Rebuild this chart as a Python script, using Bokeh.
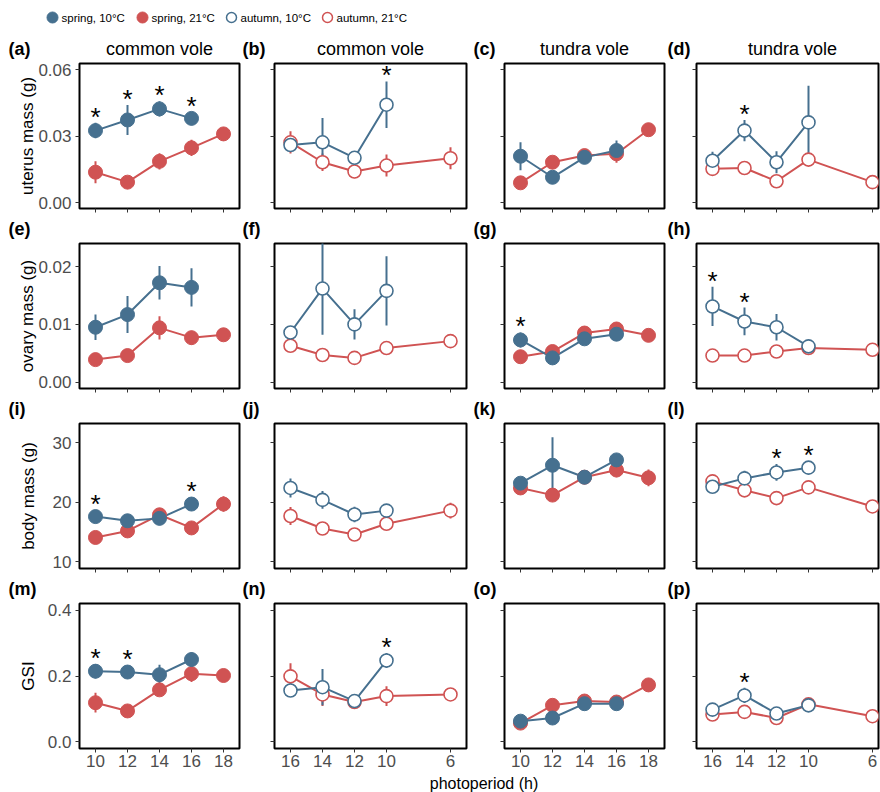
from bokeh.plotting import figure
from bokeh.models import (Range1d, FixedTicker, NumeralTickFormatter, CustomJSTickFormatter,
                          Label, ColumnDataSource)
from bokeh.layouts import column, row
from bokeh.embed import file_html
from bokeh.resources import INLINE
from bokeh.core.properties import value

BLUE = "#46708F"
RED = "#D05353"
FONT = "Liberation Sans"

# ---------------- data ----------------
spring_x = [10, 12, 14, 16, 18]
autumn_x = [16, 14, 12, 10, 6]
spring_ticks = [10, 12, 14, 16, 18]
autumn_ticks = [16, 14, 12, 10, 6]

legend_labels = ["spring, 10°C", "spring, 21°C", "autumn, 10°C", "autumn, 21°C"]
legend_colors = [BLUE, RED, BLUE, RED]
legend_filled = [True, True, False, False]
row_labels = ["uterus mass (g)", "ovary mass (g)", "body mass (g)", "GSI"]
col_titles = ["common vole", "common vole", "tundra vole", "tundra vole"]
letters = [["(a)", "(b)", "(c)", "(d)"], ["(e)", "(f)", "(g)", "(h)"],
           ["(i)", "(j)", "(k)", "(l)"], ["(m)", "(n)", "(o)", "(p)"]]
x_title = "photoperiod (h)"
y_ticks = [[0.0, 0.03, 0.06], [0.0, 0.01, 0.02], [10, 20, 30], [0.0, 0.2, 0.4]]
y_formats = ["0.00", "0.00", "0", "0.0"]

# uterus mass
a_blue = [0.0325, 0.0373, 0.0423, 0.0380]; a_blue_se = [0.0035, 0.0068, 0.0034, 0.0030]
a_red = [0.0137, 0.0092, 0.0186, 0.0247, 0.0310]; a_red_se = [0.0050, 0.0010, 0.0037, 0.0037, 0.0030]
a_stars = [10, 12, 14, 16]
b_blue = [0.0260, 0.0272, 0.0202, 0.0442]; b_blue_se = [0.0020, 0.0110, 0.0030, 0.0105]
b_red = [0.0272, 0.0182, 0.0140, 0.0167, 0.0200]; b_red_se = [0.0050, 0.0040, 0.0030, 0.0050, 0.0050]
b_stars = [10]
c_blue = [0.0209, 0.0114, 0.0204, 0.0235]; c_blue_se = [0.0063, 0.0020, 0.0020, 0.0045]
c_red = [0.0089, 0.0182, 0.0212, 0.0220, 0.0329]; c_red_se = [0.0020, 0.0020, 0.0030, 0.0040, 0.0020]
c_stars = []
d_blue = [0.0189, 0.0325, 0.0182, 0.0362]; d_blue_se = [0.0040, 0.0048, 0.0050, 0.0165]
d_red = [0.0152, 0.0156, 0.0096, 0.0194, 0.0092]; d_red_se = [0.0020, 0.0020, 0.0020, 0.0020, 0.0020]
d_stars = [14]
# ovary mass
e_blue = [0.0095, 0.0117, 0.0172, 0.0164]; e_blue_se = [0.0022, 0.0032, 0.0029, 0.0033]
e_red = [0.0039, 0.0046, 0.0094, 0.0077, 0.0082]; e_red_se = [0.0010, 0.0010, 0.0020, 0.0012, 0.0008]
e_stars = []
f_blue = [0.0086, 0.0162, 0.0100, 0.0158]; f_blue_se = [0.0010, 0.0080, 0.0026, 0.0060]
f_red = [0.0063, 0.0047, 0.0042, 0.0059, 0.0071]; f_red_se = [0.0010, 0.0012, 0.0008, 0.0008, 0.0008]
f_stars = []
g_blue = [0.0073, 0.0042, 0.0075, 0.0083]; g_blue_se = [0.0013, 0.0008, 0.0008, 0.0008]
g_red = [0.0044, 0.0053, 0.0085, 0.0092, 0.0081]; g_red_se = [0.0008, 0.0008, 0.0012, 0.0012, 0.0008]
g_stars = [10]
h_blue = [0.0131, 0.0105, 0.0095, 0.0062]; h_blue_se = [0.0034, 0.0024, 0.0023, 0.0008]
h_red = [0.0046, 0.0046, 0.0053, 0.0059, 0.0056]; h_red_se = [0.0006, 0.0006, 0.0006, 0.0006, 0.0006]
h_stars = [16, 14]
# body mass
i_blue = [17.6, 16.9, 17.3, 19.7]; i_blue_se = [1.1, 0.8, 0.8, 1.1]
i_red = [14.1, 15.2, 17.9, 15.7, 19.7]; i_red_se = [0.7, 0.8, 0.8, 0.8, 1.3]
i_stars = [10, 16]
j_blue = [22.4, 20.4, 17.95, 18.6]; j_blue_se = [1.6, 1.5, 1.3, 1.0]
j_red = [17.7, 15.6, 14.6, 16.4, 18.6]; j_red_se = [1.5, 0.8, 0.8, 1.0, 1.3]
j_stars = []
k_blue = [23.2, 26.2, 24.2, 27.1]; k_blue_se = [0.8, 4.7, 0.8, 0.8]
k_red = [22.4, 21.2, 24.2, 25.4, 24.1]; k_red_se = [1.0, 0.8, 0.8, 1.2, 1.4]
k_stars = []
l_blue = [22.6, 24.0, 25.0, 25.8]; l_blue_se = [0.8, 1.3, 1.4, 1.1]
l_red = [23.5, 22.0, 20.7, 22.5, 19.3]; l_red_se = [0.7, 0.7, 0.7, 0.7, 0.7]
l_stars = [12, 10]
# GSI
m_blue = [0.2145, 0.212, 0.204, 0.250]; m_blue_se = [0.022, 0.020, 0.030, 0.022]
m_red = [0.119, 0.094, 0.158, 0.207, 0.2015]; m_red_se = [0.030, 0.010, 0.015, 0.025, 0.012]
m_stars = [10, 12]
n_blue = [0.156, 0.166, 0.124, 0.247]; n_blue_se = [0.010, 0.055, 0.010, 0.023]
n_red = [0.199, 0.144, 0.121, 0.139, 0.144]; n_red_se = [0.040, 0.035, 0.020, 0.030, 0.015]
n_stars = [10]
o_blue = [0.063, 0.0725, 0.116, 0.116]; o_blue_se = [0.010, 0.010, 0.010, 0.010]
o_red = [0.057, 0.111, 0.124, 0.121, 0.173]; o_red_se = [0.010, 0.012, 0.010, 0.010, 0.020]
o_stars = []
p_blue = [0.098, 0.141, 0.086, 0.111]; p_blue_se = [0.010, 0.023, 0.010, 0.010]
p_red = [0.083, 0.091, 0.0725, 0.114, 0.078]; p_red_se = [0.010, 0.010, 0.010, 0.010, 0.010]
p_stars = [14]

panels = [
    [(a_blue, a_blue_se, a_red, a_red_se, a_stars), (b_blue, b_blue_se, b_red, b_red_se, b_stars),
     (c_blue, c_blue_se, c_red, c_red_se, c_stars), (d_blue, d_blue_se, d_red, d_red_se, d_stars)],
    [(e_blue, e_blue_se, e_red, e_red_se, e_stars), (f_blue, f_blue_se, f_red, f_red_se, f_stars),
     (g_blue, g_blue_se, g_red, g_red_se, g_stars), (h_blue, h_blue_se, h_red, h_red_se, h_stars)],
    [(i_blue, i_blue_se, i_red, i_red_se, i_stars), (j_blue, j_blue_se, j_red, j_red_se, j_stars),
     (k_blue, k_blue_se, k_red, k_red_se, k_stars), (l_blue, l_blue_se, l_red, l_red_se, l_stars)],
    [(m_blue, m_blue_se, m_red, m_red_se, m_stars), (n_blue, n_blue_se, n_red, n_red_se, n_stars),
     (o_blue, o_blue_se, o_red, o_red_se, o_stars), (p_blue, p_blue_se, p_red, p_red_se, p_stars)],
]

# ---------------- layout constants ----------------
TOTAL_W = 880
FRAME_H = 145
FRAME_W = [160, 192, 160, 182]
NOMINAL_W = [160, 192, 160, 192]
LEFT_B = [79, 33, 36, 30]
RIGHT_B = 2
TOP_B = 4
LETTER_DX = [8, 1, 5, 1]
X_RANGES = [(9, 19), (17, 5), (9, 19), (17, 5.625)]
Y_RANGES = [(-0.0027, 0.0628), (-0.0011, 0.0240), (8.9, 33.2), (-0.02, 0.42)]
YLAB_STANDOFF = [-2, -2, 12, 7]
STRIP_H = [59, 21, 21, 21]
LEG_DOT_X = [52, 142, 231, 327]
LEG_TEXT_X = [61, 151, 240, 336]
LEG_Y = 42
GRAY = "#4D4D4D"

fig_left = []
acc = 0
for c in range(4):
    fig_left.append(acc)
    acc += LEFT_B[c] + FRAME_W[c] + RIGHT_B
frame_left = [fig_left[c] + LEFT_B[c] for c in range(4)]


def make_panel(r, c):
    blue, blue_se, red, red_se, stars = panels[r][c]
    spring = c in (0, 2)
    xr = spring_x if spring else autumn_x
    xb = xr[:4]
    bottom = 28 if r == 3 else 10
    p = figure(frame_width=FRAME_W[c], frame_height=FRAME_H,
               x_range=Range1d(*X_RANGES[c]), y_range=Range1d(*Y_RANGES[r]),
               output_backend="svg", toolbar_location=None,
               min_border_left=LEFT_B[c], min_border_right=RIGHT_B,
               min_border_top=TOP_B, min_border_bottom=bottom)
    p.xgrid.visible = False
    p.ygrid.visible = False
    p.outline_line_color = "black"
    p.outline_line_width = 2
    p.background_fill_color = "white"
    p.border_fill_color = "white"

    src_r = ColumnDataSource(dict(x=xr, y=red, lo=[m - s for m, s in zip(red, red_se)],
                                  hi=[m + s for m, s in zip(red, red_se)]))
    src_b = ColumnDataSource(dict(x=xb, y=blue, lo=[m - s for m, s in zip(blue, blue_se)],
                                  hi=[m + s for m, s in zip(blue, blue_se)]))
    p.line("x", "y", source=src_r, line_color=RED, line_width=2)
    p.line("x", "y", source=src_b, line_color=BLUE, line_width=2)
    p.segment(x0="x", y0="lo", x1="x", y1="hi", source=src_r, line_color=RED, line_width=2)
    p.segment(x0="x", y0="lo", x1="x", y1="hi", source=src_b, line_color=BLUE, line_width=2)
    for src, col in ((src_r, RED), (src_b, BLUE)):
        if spring:
            p.scatter("x", "y", source=src, size=14, fill_color=col, line_color=col, line_width=1)
        else:
            p.scatter("x", "y", source=src, size=13, fill_color="white", line_color=col, line_width=1.6)
    if stars:
        sy = [blue[xb.index(s)] + blue_se[xb.index(s)] for s in stars]
        p.text(x=stars, y=sy, text=["*"] * len(stars), text_font=value(FONT),
               text_font_size="26px", text_align="center", text_baseline="alphabetic",
               y_offset=-6, text_color="black")

    for ax in (p.xaxis[0], p.yaxis[0]):
        ax.axis_line_color = None
        ax.major_tick_in = 0
        ax.major_tick_out = 4
        ax.major_tick_line_color = "#333333"
        ax.major_tick_line_width = 1
        ax.minor_tick_line_color = None
        ax.major_label_text_font = FONT
        ax.major_label_text_font_size = "17px"
        ax.major_label_text_color = GRAY
    p.xaxis[0].ticker = FixedTicker(ticks=spring_ticks if spring else autumn_ticks)
    p.yaxis[0].ticker = FixedTicker(ticks=y_ticks[r])
    p.xaxis[0].major_label_standoff = 2
    p.yaxis[0].major_label_standoff = 4
    if r == 3:
        p.xaxis[0].formatter = NumeralTickFormatter(format="0")
    else:
        p.xaxis[0].formatter = CustomJSTickFormatter(code="return ''")
        p.xaxis[0].major_label_text_font_size = "0px"
    if c == 0:
        p.yaxis[0].formatter = NumeralTickFormatter(format=y_formats[r])
        p.yaxis[0].axis_label = row_labels[r]
        p.yaxis[0].axis_label_text_font = FONT
        p.yaxis[0].axis_label_text_font_size = "17px"
        p.yaxis[0].axis_label_text_font_style = "normal"
        p.yaxis[0].axis_label_text_color = "black"
        p.yaxis[0].axis_label_standoff = YLAB_STANDOFF[r]
    else:
        p.yaxis[0].formatter = CustomJSTickFormatter(code="return ''")
        p.yaxis[0].major_label_text_font_size = "0px"
    return p


def strip(h):
    s = figure(width=TOTAL_W, height=h, x_range=Range1d(0, TOTAL_W), y_range=Range1d(0, h),
               output_backend="svg", toolbar_location=None, min_border=0,
               x_axis_location=None, y_axis_location=None)
    s.outline_line_color = None
    s.grid.visible = False
    s.background_fill_color = "white"
    s.border_fill_color = "white"
    return s


def header(r):
    s = strip(STRIP_H[r])
    for c in range(4):
        s.add_layout(Label(x=fig_left[c] + LETTER_DX[c], y=10.3, text=letters[r][c],
                           text_font=FONT, text_font_size="18px", text_font_style="bold",
                           text_color="black", text_baseline="middle", text_align="left"))
        if r == 0:
            s.add_layout(Label(x=frame_left[c] + NOMINAL_W[c] / 2, y=10.3, text=col_titles[c],
                               text_font=FONT, text_font_size="18px", text_color="black",
                               text_align="center", text_baseline="middle"))
    if r == 0:
        # legend keys
        for lx, tx, lab, col, filled in zip(LEG_DOT_X, LEG_TEXT_X, legend_labels,
                                             legend_colors, legend_filled):
            if filled:
                s.scatter(x=[lx], y=[LEG_Y], size=11, fill_color=col, line_color=col)
            else:
                s.scatter(x=[lx], y=[LEG_Y], size=10, fill_color="white", line_color=col,
                          line_width=1.5)
            s.add_layout(Label(x=tx, y=LEG_Y, text=lab, text_font=FONT, text_font_size="11.5px",
                               text_color="black", text_align="left", text_baseline="middle"))
    return s


items = []
for r in range(4):
    items.append(header(r))
    items.append(row(*[make_panel(r, c) for c in range(4)]))

tfig = strip(16)
tfig.add_layout(Label(x=(frame_left[0] + TOTAL_W + 8) / 2, y=9.5, text=x_title,
                      text_font=FONT, text_font_size="16px", text_color="black",
                      text_align="center", text_baseline="middle"))
items.append(tfig)

layout = column(*items)
open("out.html", "w").write(file_html(layout, INLINE))
